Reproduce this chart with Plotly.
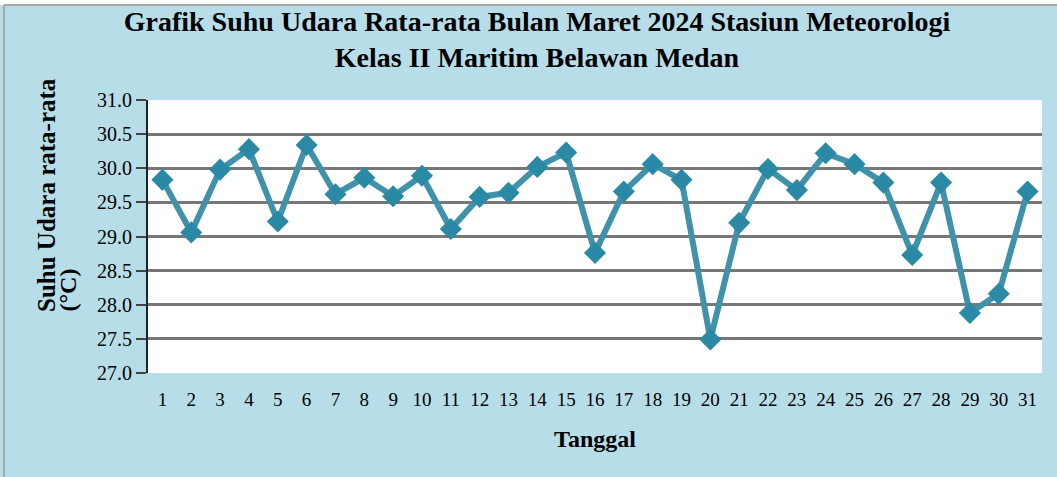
import plotly.graph_objects as go

tanggal = [str(d) for d in range(1, 32)]
suhu = [29.83, 29.06, 29.98, 30.28, 29.22, 30.34, 29.62, 29.86, 29.59, 29.89,
        29.11, 29.58, 29.64, 30.02, 30.23, 28.76, 29.66, 30.06, 29.83, 27.49,
        29.20, 29.99, 29.68, 30.22, 30.06, 29.79, 28.73, 29.79, 27.88, 28.16,
        29.66]
y_ticks = [27.0, 27.5, 28.0, 28.5, 29.0, 29.5, 30.0, 30.5, 31.0]

serif = "Liberation Serif, Times New Roman, serif"
W, H = 1057, 477
M = dict(l=148, r=15, t=100, b=104)
ph = H - M["t"] - M["b"]
pw = W - M["l"] - M["r"]


def px_x(x):
    # pixel column -> paper x
    return (x - M["l"]) / pw


def px_y(y):
    # pixel row -> paper y
    return 1 - (y - M["t"]) / ph


fig = go.Figure()
fig.add_trace(
    go.Scatter(
        x=tanggal,
        y=suhu,
        mode="lines+markers",
        line=dict(color="#3f92a9", width=6),
        marker=dict(symbol="diamond", size=17, color="#2a8aa6"),
        showlegend=False,
    )
)

fig.update_layout(
    width=W,
    height=H,
    paper_bgcolor="#b7dde8",
    plot_bgcolor="white",
    margin=M,
    font=dict(family=serif, color="black", size=20),
    title=dict(
        text="<b>Grafik Suhu Udara Rata-rata Bulan Maret 2024 Stasiun Meteorologi<br>Kelas II Maritim Belawan Medan</b>",
        x=537 / W,
        xanchor="center",
        xref="container",
        y=1 - 31 / H,
        yanchor="top",
        font=dict(family=serif, size=28, color="black"),
    ),
    shapes=[
        dict(type="rect", xref="paper", yref="paper", x0=px_x(-10), x1=px_x(W + 10), y0=px_y(5), y1=px_y(-10),
             fillcolor="white", line=dict(width=0), layer="below"),
        dict(type="line", xref="paper", yref="paper", x0=px_x(4), x1=px_x(W + 10), y0=px_y(5), y1=px_y(5),
             line=dict(color="#a8a8a8", width=2)),
        dict(type="line", xref="paper", yref="paper", x0=px_x(4), x1=px_x(4), y0=px_y(H + 10), y1=px_y(5),
             line=dict(color="#a8a8a8", width=2)),
    ],
    annotations=[
        dict(text="<b>Suhu Udara rata-rata</b>", textangle=-90, xref="paper", yref="paper",
             x=px_x(46), y=px_y(314), xanchor="center", yanchor="bottom", showarrow=False,
             font=dict(size=25)),
        dict(text="<b>(°C)</b>", textangle=-90, xref="paper", yref="paper",
             x=px_x(67), y=px_y(314), xanchor="center", yanchor="bottom", showarrow=False,
             font=dict(size=24)),
    ],
)

fig.update_xaxes(
    type="category",
    range=[-0.5, 30.5],
    showgrid=False,
    showline=False,
    ticks="",
    ticklabelstandoff=13,
    tickfont=dict(size=19),
    title=dict(text="<b>Tanggal</b>", font=dict(size=24), standoff=21),
)

fig.update_yaxes(
    range=[27.0, 31.0],
    tickvals=y_ticks,
    ticktext=[f"{v:.1f}" for v in y_ticks],
    showgrid=True,
    gridcolor="#777777",
    gridwidth=2.5,
    showline=True,
    linecolor="#222222",
    linewidth=2,
    ticks="outside",
    ticklen=10,
    tickwidth=2,
    tickcolor="#444444",
    tickfont=dict(size=20),
    zeroline=False,
)

fig.write_html("out.html", config={"displayModeBar": False},
               post_script="document.body.style.margin='0';")
